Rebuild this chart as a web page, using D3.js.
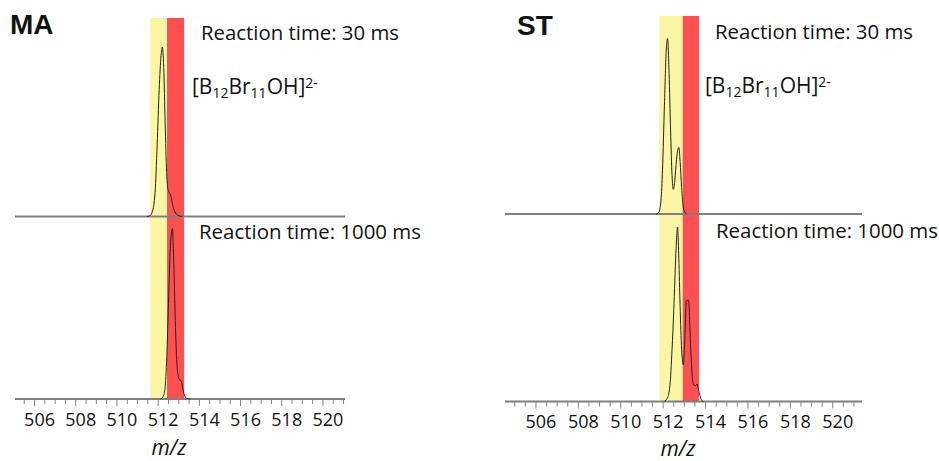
<!DOCTYPE html>
<html>
<head>
<meta charset="utf-8">
<script src="https://cdn.jsdelivr.net/npm/d3@7"></script>
<style>
  body { margin: 0; background: #fff; }
  svg { display: block; }
  text { font-family: "Open Sans", sans-serif; fill: #111; }
</style>
</head>
<body>
<svg id="chart" width="939" height="461"></svg>
<script>
// tick labels on the m/z axis
const tickLabels = [506, 508, 510, 512, 514, 516, 518, 520];

// highlighted m/z windows [from, to]
const maYellow = [511.61, 512.43];
const maRed = [512.43, 513.26];
const stYellow = [511.82, 512.92];
const stRed = [512.92, 513.69];

// spectra as [m/z, relative intensity %]
const maTop = [[511.45, 0], [511.6, 0.5], [511.72, 3], [511.85, 14], [511.95, 42], [512.05, 75],
  [512.14, 95], [512.2, 100], [512.27, 88], [512.34, 55], [512.41, 26], [512.48, 16],
  [512.55, 14], [512.62, 12], [512.72, 6], [512.85, 2], [513.0, 0.5], [513.16, 0]];
const maBottom = [[512.1, 0], [512.22, 1], [512.33, 6], [512.42, 25], [512.5, 56], [512.58, 86],
  [512.65, 98], [512.69, 100], [512.75, 84], [512.82, 50], [512.9, 23], [512.98, 13],
  [513.06, 11], [513.11, 11], [513.18, 7], [513.28, 2], [513.4, 0.3], [513.55, 0]];
const stTop = [[511.68, 0], [511.8, 1], [511.9, 8], [511.97, 25], [512.06, 62], [512.15, 94],
  [512.21, 100], [512.28, 80], [512.35, 48], [512.42, 22], [512.48, 14], [512.55, 19],
  [512.63, 31], [512.7, 37], [512.74, 38], [512.8, 30], [512.87, 15], [512.95, 4],
  [513.03, 1], [513.12, 0]];
const stBottom = [[512.05, 0], [512.2, 2], [512.32, 9], [512.42, 30], [512.5, 52], [512.6, 85],
  [512.68, 100], [512.74, 82], [512.8, 55], [512.87, 30], [512.95, 21], [513.02, 35],
  [513.1, 58], [513.2, 58], [513.3, 30], [513.42, 10], [513.52, 9], [513.6, 10],
  [513.7, 5], [513.8, 1], [513.9, 0]];

const panels = [
  {
    name: "MA", nameX: 10, nameY: 34,
    x0: 15, x1: 345, domain: [505.05, 521.07],
    bandTop: 18, base: [216.5, 399], peak: [47, 228.5],
    traces: [maTop, maBottom], yellow: maYellow, red: maRed,
    label30: [201, 40], label1000: [199, 239], formula: [192, 94],
    tickY: 425.5, mzX: 169, mzY: 455
  },
  {
    name: "ST", nameX: 517, nameY: 35,
    x0: 505, x1: 862, domain: [504.54, 521.38],
    bandTop: 16, base: [214, 401.5], peak: [38.5, 227],
    traces: [stTop, stBottom], yellow: stYellow, red: stRed,
    label30: [715, 39], label1000: [716, 238], formula: [705, 93],
    tickY: 427.5, mzX: 678, mzY: 456
  }
];

const svg = d3.select("#chart");

panels.forEach(function(p) {
  const g = svg.append("g");
  const x = d3.scaleLinear().domain(p.domain).range([p.x0, p.x1]);
  const bottom = p.base[1];

  // coloured windows
  g.append("rect")
    .attr("x", x(p.yellow[0]))
    .attr("y", p.bandTop)
    .attr("width", x(p.yellow[1]) - x(p.yellow[0]))
    .attr("height", bottom - p.bandTop)
    .attr("fill", "#faf6a3");
  g.append("rect")
    .attr("x", x(p.red[0]))
    .attr("y", p.bandTop)
    .attr("width", x(p.red[1]) - x(p.red[0]))
    .attr("height", bottom - p.bandTop)
    .attr("fill", "#fe5050");

  // baselines
  p.base.forEach(function(b) {
    g.append("line")
      .attr("x1", p.x0).attr("x2", p.x1)
      .attr("y1", b).attr("y2", b)
      .attr("stroke", "#808080")
      .attr("stroke-width", 2);
  });

  // spectra
  p.traces.forEach(function(tr, i) {
    const y = d3.scaleLinear().domain([0, 100]).range([p.base[i], p.peak[i]]);
    const line = d3.line()
      .x(function(d) { return x(d[0]); })
      .y(function(d) { return y(d[1]); })
      .curve(d3.curveMonotoneX);
    g.append("path")
      .datum(tr)
      .attr("d", line)
      .attr("fill", "none")
      .attr("stroke", "#222")
      .attr("stroke-width", 1);
  });

  // x axis ticks
  const minor = d3.range(Math.ceil(p.domain[0] * 2) / 2, p.domain[1], 0.5);
  g.selectAll(".tk")
    .data(minor)
    .enter()
    .append("line")
    .attr("x1", function(d) { return x(d); })
    .attr("x2", function(d) { return x(d); })
    .attr("y1", bottom)
    .attr("y2", function(d) { return bottom + (tickLabels.indexOf(d) >= 0 ? 7 : 5); })
    .attr("stroke", "#808080")
    .attr("stroke-width", 1);

  g.selectAll(".tl")
    .data(tickLabels)
    .enter()
    .append("text")
    .attr("x", function(d) { return x(d) + 5; })
    .attr("y", p.tickY)
    .attr("text-anchor", "middle")
    .style("font-size", "18px")
    .text(function(d) { return d; });

  g.append("text")
    .attr("x", p.mzX)
    .attr("y", p.mzY)
    .attr("text-anchor", "middle")
    .style("font-size", "21px")
    .style("font-style", "italic")
    .text("m/z");

  // panel name
  g.append("text")
    .attr("x", p.nameX)
    .attr("y", p.nameY)
    .style("font-family", "'Liberation Sans', Arial, sans-serif")
    .style("font-weight", "bold")
    .style("font-size", "28px")
    .text(p.name);

  g.append("text")
    .attr("x", p.label30[0])
    .attr("y", p.label30[1])
    .attr("textLength", 198)
    .attr("lengthAdjust", "spacingAndGlyphs")
    .style("font-size", "20px")
    .text("Reaction time: 30 ms");

  g.append("text")
    .attr("x", p.label1000[0])
    .attr("y", p.label1000[1])
    .attr("textLength", 222)
    .attr("lengthAdjust", "spacingAndGlyphs")
    .style("font-size", "20px")
    .text("Reaction time: 1000 ms");

  const f = g.append("text")
    .attr("x", p.formula[0])
    .attr("y", p.formula[1])
    .style("font-size", "21px");
  f.append("tspan").text("[B");
  f.append("tspan").attr("dy", 4).style("font-size", "14px").text("12");
  f.append("tspan").attr("dy", -4).text("Br");
  f.append("tspan").attr("dy", 4).style("font-size", "14px").text("11");
  f.append("tspan").attr("dy", -4).text("OH]");
  f.append("tspan").attr("dy", -6).style("font-size", "14px").text("2-");
});
</script>
</body>
</html>
